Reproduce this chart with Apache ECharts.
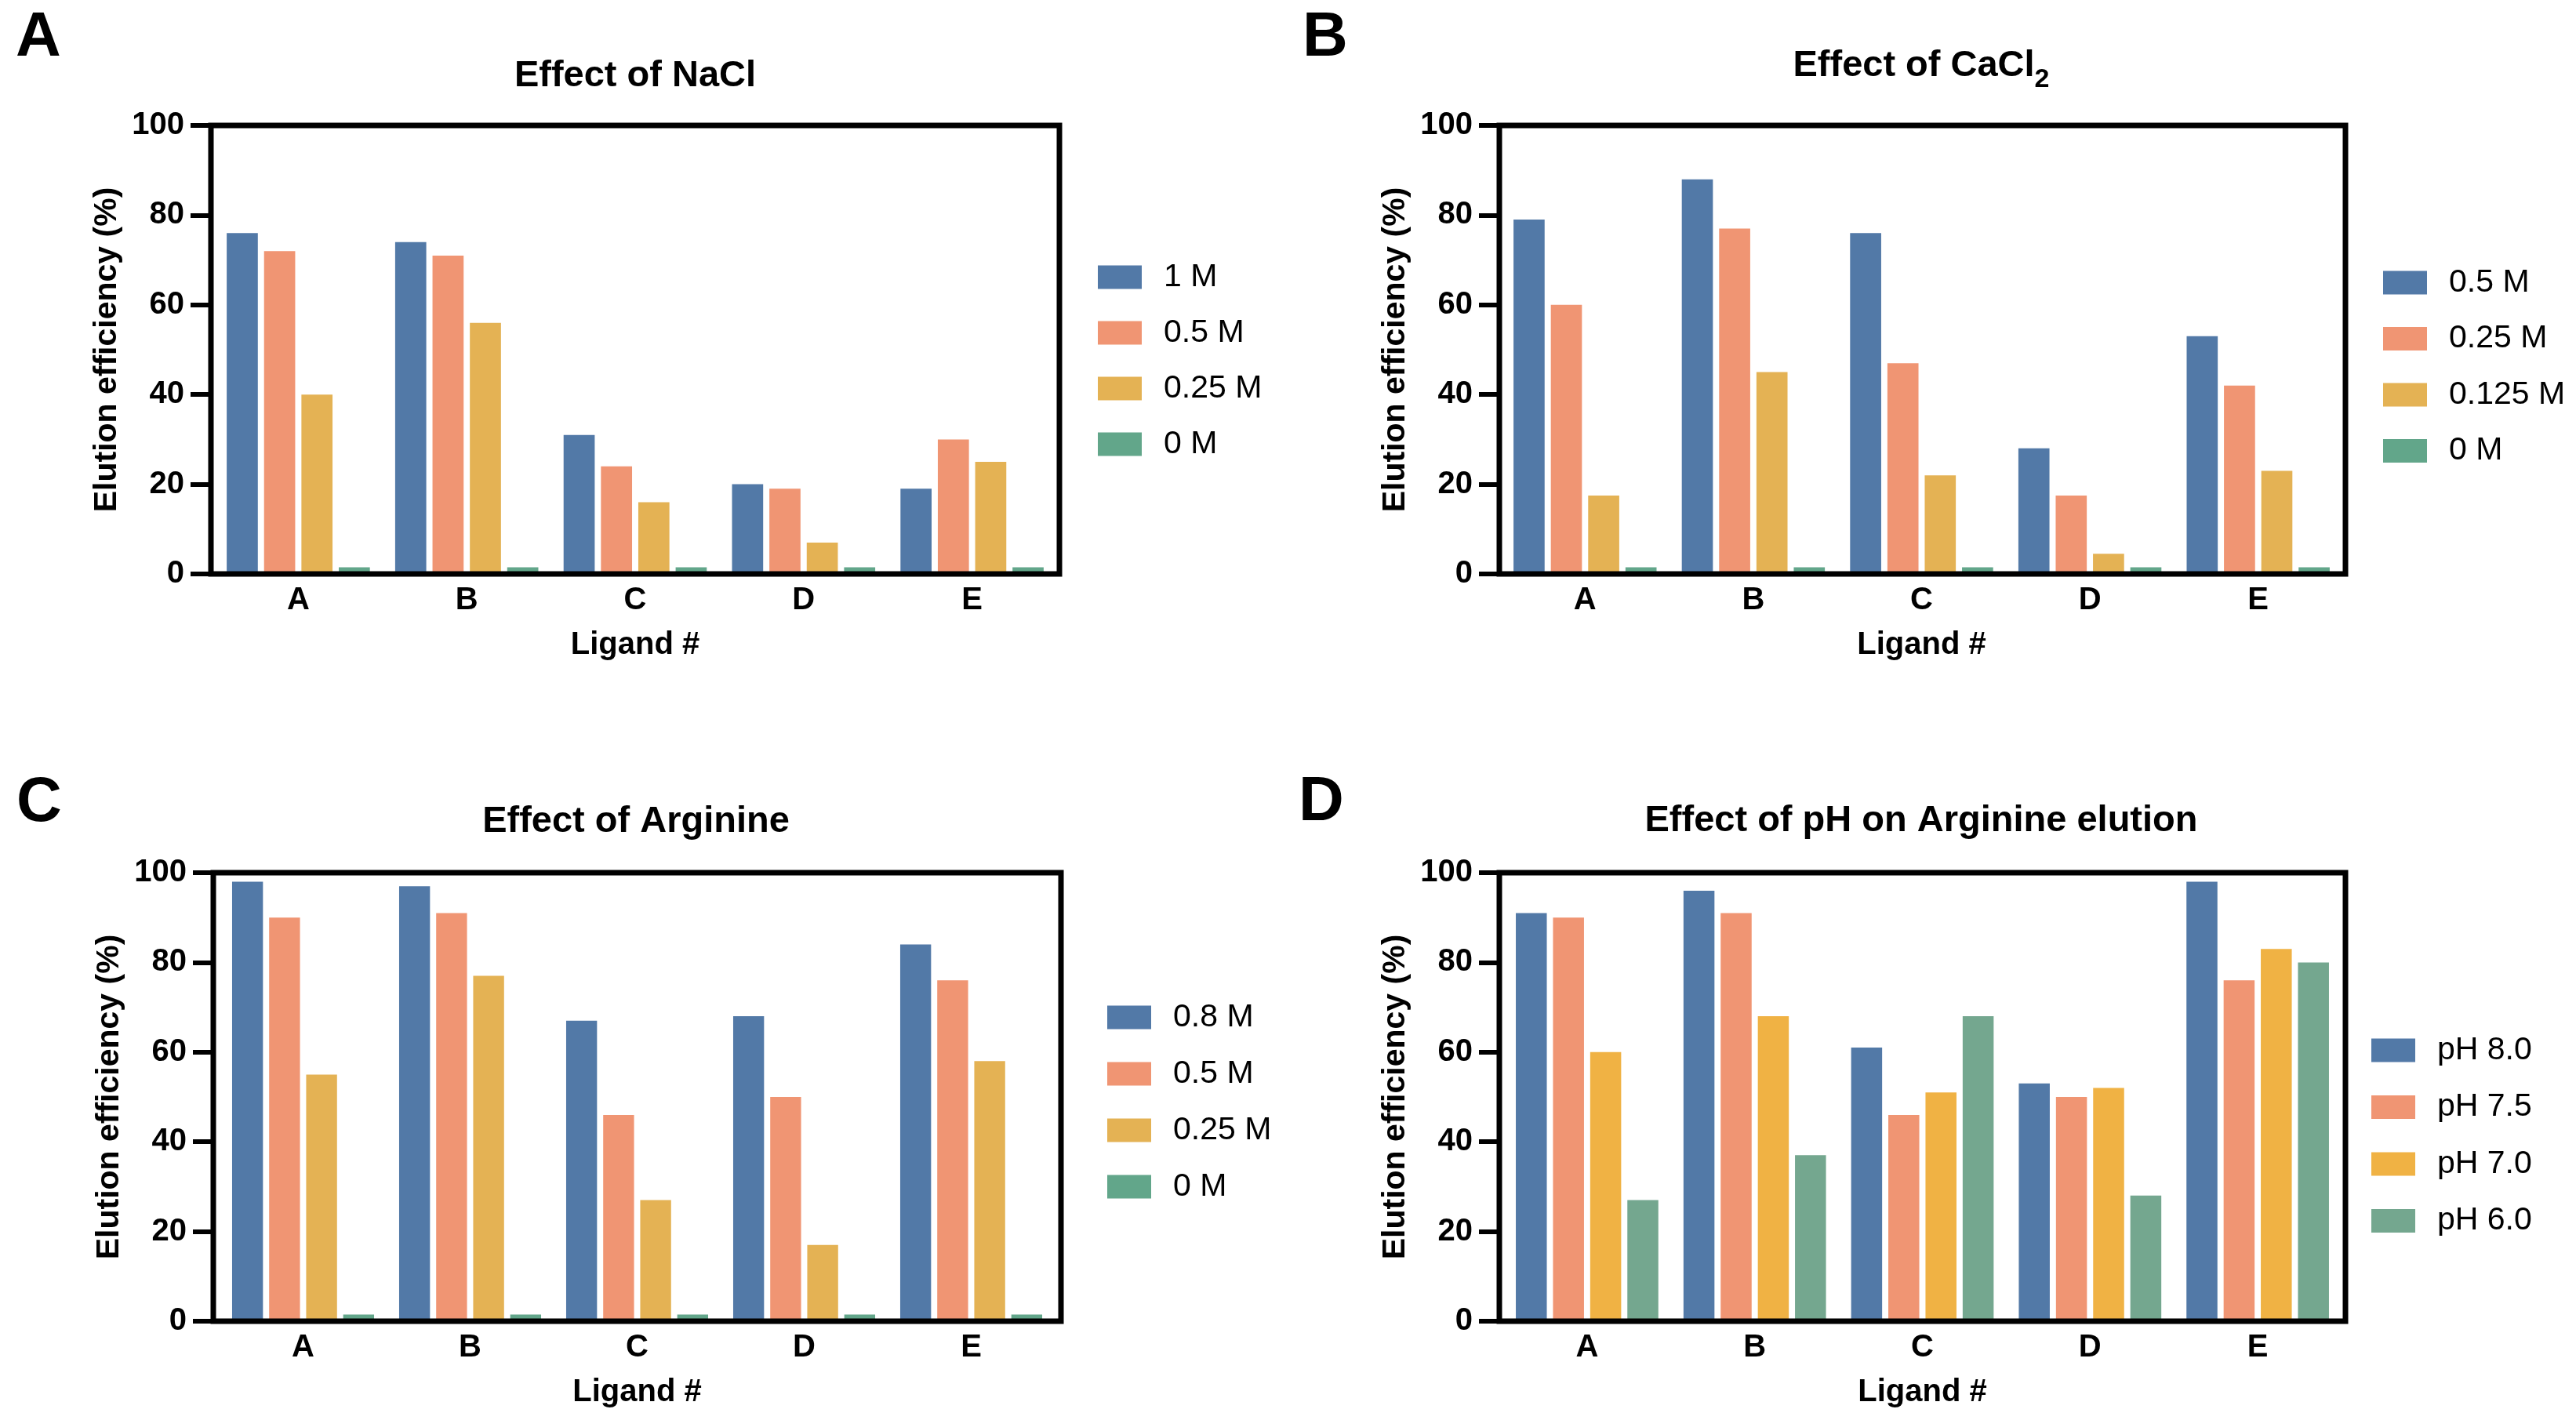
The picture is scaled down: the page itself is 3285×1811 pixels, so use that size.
<!DOCTYPE html>
<html><head><meta charset="utf-8">
<script src="https://cdn.jsdelivr.net/npm/echarts@6/dist/echarts.min.js"></script>
<style>
html,body{margin:0;padding:0;background:#fff;width:3285px;height:1811px;overflow:hidden}
.p{position:absolute}
</style></head>
<body>
<div id="pA" class="p" style="left:0;top:0;width:1640px;height:900px"></div>
<div id="pB" class="p" style="left:1640px;top:0;width:1645px;height:900px"></div>
<div id="pC" class="p" style="left:0;top:900px;width:1640px;height:911px"></div>
<div id="pD" class="p" style="left:1640px;top:900px;width:1645px;height:911px"></div>
<script>
// ---------- data ----------
const categories = ['A', 'B', 'C', 'D', 'E'];
const yTicks = { min: 0, max: 100, interval: 20 };

// Panel A: Effect of NaCl
const naclNames = ['1 M', '0.5 M', '0.25 M', '0 M'];
const nacl_1M   = [76, 74, 31, 20, 19];
const nacl_05M  = [72, 71, 24, 19, 30];
const nacl_025M = [40, 56, 16, 7, 25];
const nacl_0M   = [1.5, 1.5, 1.5, 1.5, 1.5];

// Panel B: Effect of CaCl2
const caclNames = ['0.5 M', '0.25 M', '0.125 M', '0 M'];
const cacl_05M   = [79, 88, 76, 28, 53];
const cacl_025M  = [60, 77, 47, 17.5, 42];
const cacl_0125M = [17.5, 45, 22, 4.5, 23];
const cacl_0M    = [1.5, 1.5, 1.5, 1.5, 1.5];

// Panel C: Effect of Arginine
const argNames = ['0.8 M', '0.5 M', '0.25 M', '0 M'];
const arg_08M  = [98, 97, 67, 68, 84];
const arg_05M  = [90, 91, 46, 50, 76];
const arg_025M = [55, 77, 27, 17, 58];
const arg_0M   = [1.5, 1.5, 1.5, 1.5, 1.5];

// Panel D: Effect of pH on Arginine elution
const phNames = ['pH 8.0', 'pH 7.5', 'pH 7.0', 'pH 6.0'];
const ph_80 = [91, 96, 61, 53, 98];
const ph_75 = [90, 91, 46, 50, 76];
const ph_70 = [60, 68, 51, 52, 83];
const ph_60 = [27, 37, 68, 28, 80];

// ---------- styling ----------
const FONT = '"Liberation Sans", Arial, Helvetica, sans-serif';
const colorsABC = ['#5279A7', '#F09573', '#E4B254', '#62A68A'];
const colorsD   = ['#5279A7', '#F09573', '#F0B244', '#74A78F'];

function measure(text, size) {
  const ctx = document.createElement('canvas').getContext('2d');
  ctx.font = 'bold ' + size + 'px "Liberation Sans", Arial, sans-serif';
  return ctx.measureText(text).width;
}

function makeChart(id, cfg) {
  const chart = echarts.init(document.getElementById(id));
  const f = cfg.frame; // [axisLeft, top, axisRight, bottom]
  const graphic = [
    { type: 'text', x: cfg.letterX, y: cfg.letterY,
      style: { text: cfg.letter, font: 'bold 80px ' + FONT, fill: '#000', textAlign: 'left', textVerticalAlign: 'middle' } },
    { type: 'rect', z: 100, silent: true,
      shape: { x: f[0], y: f[1], width: f[2] - f[0], height: f[3] - f[1] },
      style: { fill: 'none', stroke: '#000', lineWidth: 7 } }
  ];
  const tSize = 47;
  if (cfg.titleSub) {
    const sSize = 34;
    const w1 = measure(cfg.title, tSize), w2 = measure(cfg.titleSub, sSize);
    const x0 = cfg.titleX - (w1 + w2) / 2;
    graphic.push({ type: 'text', x: x0, y: cfg.titleY,
      style: { text: cfg.title, font: 'bold ' + tSize + 'px ' + FONT, fill: '#000', textAlign: 'left', textVerticalAlign: 'middle' } });
    graphic.push({ type: 'text', x: x0 + w1, y: cfg.titleY + 18,
      style: { text: cfg.titleSub, font: 'bold ' + sSize + 'px ' + FONT, fill: '#000', textAlign: 'left', textVerticalAlign: 'middle' } });
  } else {
    graphic.push({ type: 'text', x: cfg.titleX, y: cfg.titleY,
      style: { text: cfg.title, font: 'bold ' + tSize + 'px ' + FONT, fill: '#000', textAlign: 'center', textVerticalAlign: 'middle' } });
  }
  const option = {
    animation: false,
    backgroundColor: '#fff',
    graphic: graphic,
    legend: {
      orient: 'vertical', left: cfg.legLeft, top: cfg.legTop,
      itemWidth: 56, itemHeight: 30, itemGap: cfg.legGap, icon: 'rect',
      data: cfg.names,
      textStyle: { fontFamily: FONT, fontSize: 41, color: '#000', lineHeight: 40, padding: [0, 0, 0, 23] }
    },
    grid: { left: cfg.band[0], top: f[1], width: cfg.band[1] - cfg.band[0], height: f[3] - f[1],
            show: false, containLabel: false },
    xAxis: {
      type: 'category', data: categories,
      axisLine: { show: false },
      axisTick: { show: false },
      axisLabel: { fontFamily: FONT, fontWeight: 'bold', fontSize: 40, color: '#000', margin: 14 },
      name: 'Ligand #', nameLocation: 'middle', nameGap: 71,
      nameTextStyle: { fontFamily: FONT, fontWeight: 'bold', fontSize: 40, color: '#000' }
    },
    yAxis: {
      type: 'value', min: yTicks.min, max: yTicks.max, interval: yTicks.interval,
      offset: cfg.band[0] - f[0],
      axisLine: { show: false },
      axisTick: { show: true, length: 26, lineStyle: { color: '#000', width: 6 } },
      splitLine: { show: false },
      axisLabel: { fontFamily: FONT, fontWeight: 'bold', fontSize: 40, color: '#000', margin: 34 },
      name: 'Elution efficiency (%)', nameLocation: 'middle', nameGap: 104,
      nameTextStyle: { fontFamily: FONT, fontWeight: 'bold', fontSize: 41, color: '#000' }
    },
    series: cfg.values.map((vals, i) => ({
      type: 'bar', name: cfg.names[i], data: vals,
      barCategoryGap: '15%', barGap: '20%',
      itemStyle: { color: cfg.colors[i] }
    }))
  };
  chart.setOption(option);
}

makeChart('pA', {
  letter: 'A', letterX: 20, letterY: 49,
  title: 'Effect of NaCl', titleX: 810, titleY: 97,
  names: naclNames, values: [nacl_1M, nacl_05M, nacl_025M, nacl_0M], colors: colorsABC,
  frame: [269, 160, 1351, 732], band: [273, 1347],
  legLeft: 1395, legTop: 328, legGap: 30
});
makeChart('pB', {
  letter: 'B', letterX: 21, letterY: 49,
  title: 'Effect of CaCl', titleSub: '2', titleX: 810, titleY: 84,
  names: caclNames, values: [cacl_05M, cacl_025M, cacl_0125M, cacl_0M], colors: colorsABC,
  frame: [272, 160, 1351, 732], band: [274, 1347],
  legLeft: 1394, legTop: 335, legGap: 30.5
});
makeChart('pC', {
  letter: 'C', letterX: 21, letterY: 125,
  title: 'Effect of Arginine', titleX: 811, titleY: 148,
  names: argNames, values: [arg_08M, arg_05M, arg_025M, arg_0M], colors: colorsABC,
  frame: [272, 213, 1353, 785], band: [280, 1345],
  legLeft: 1407, legTop: 372, legGap: 31
});
makeChart('pD', {
  letter: 'D', letterX: 16, letterY: 124,
  title: 'Effect of pH on Arginine elution', titleX: 810, titleY: 147,
  names: phNames, values: [ph_80, ph_75, ph_70, ph_60], colors: colorsD,
  frame: [272, 213, 1351, 785], band: [277, 1346],
  legLeft: 1379, legTop: 414, legGap: 31.5
});
</script>
</body></html>
